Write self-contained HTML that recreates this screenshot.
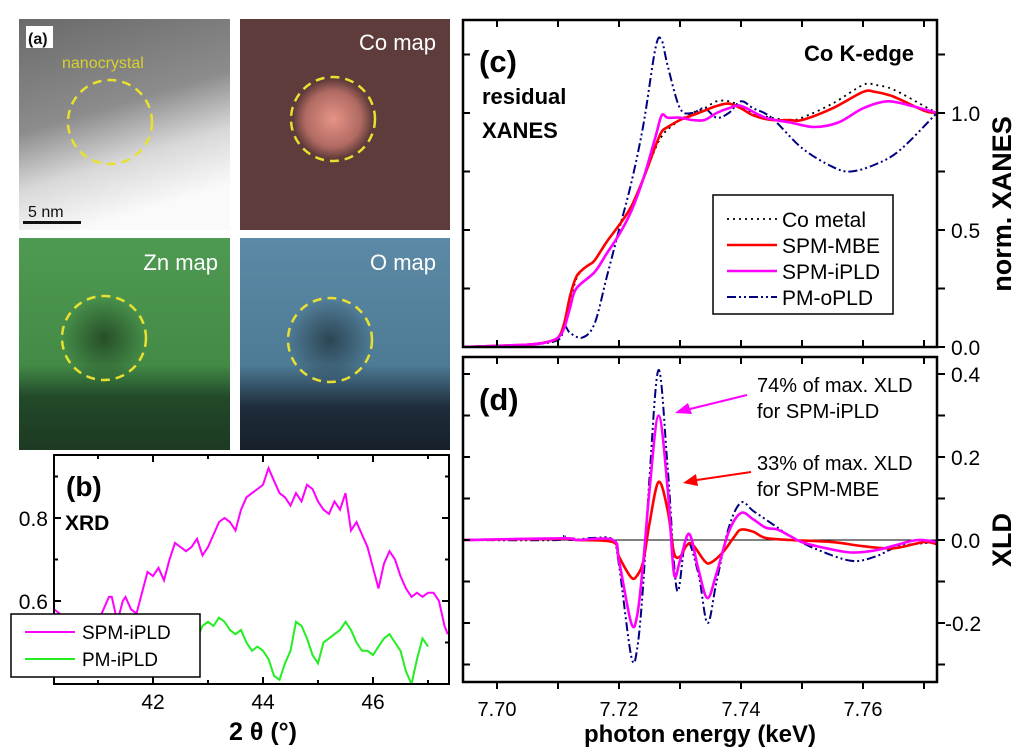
<!DOCTYPE html>
<html><head><meta charset="utf-8"><style>
html,body{margin:0;padding:0;background:#fff;}
svg{display:block;font-family:"Liberation Sans",sans-serif;}
</style></head><body>
<svg id="fig" width="1024" height="754" viewBox="0 0 1024 754" xmlns="http://www.w3.org/2000/svg">
<defs>
<linearGradient id="tem" x1="0" y1="0" x2="0.3" y2="1"><stop offset="0" stop-color="#6a6a6a"/><stop offset="0.5" stop-color="#8c8c8c"/><stop offset="0.75" stop-color="#d8d8d8"/><stop offset="1" stop-color="#fafafa"/></linearGradient>
<radialGradient id="coblob" cx="0.5" cy="0.5" r="0.5"><stop offset="0" stop-color="#e69486"/><stop offset="0.7" stop-color="#b06a62"/><stop offset="1" stop-color="#5e3a39"/></radialGradient>
<linearGradient id="zn" x1="0" y1="0" x2="0" y2="1"><stop offset="0" stop-color="#4f9a52"/><stop offset="0.6" stop-color="#438a46"/><stop offset="0.75" stop-color="#22492a"/><stop offset="1" stop-color="#1d3a22"/></linearGradient>
<linearGradient id="ox" x1="0" y1="0" x2="0" y2="1"><stop offset="0" stop-color="#5c8aa6"/><stop offset="0.6" stop-color="#4d7a94"/><stop offset="0.8" stop-color="#1e2c3a"/><stop offset="1" stop-color="#16202a"/></linearGradient>
<radialGradient id="dark" cx="0.5" cy="0.5" r="0.5"><stop offset="0" stop-color="#000" stop-opacity="0.45"/><stop offset="1" stop-color="#000" stop-opacity="0"/></radialGradient>
</defs>
<g>
<rect x="19" y="19" width="211" height="211" fill="url(#tem)"/>
<rect x="240" y="19" width="210" height="211" fill="#5e3c3c"/>
<circle cx="333" cy="119" r="40" fill="url(#coblob)"/>
<rect x="19" y="238" width="211" height="212" fill="url(#zn)"/>
<circle cx="104" cy="338" r="42" fill="url(#dark)"/>
<rect x="240" y="238" width="210" height="212" fill="url(#ox)"/>
<circle cx="330" cy="340" r="44" fill="url(#dark)"/>
<g fill="none" stroke="#e8e030" stroke-width="2.5" stroke-dasharray="9,6">
<circle cx="110" cy="122" r="42"/>
<circle cx="333" cy="119" r="42"/>
<circle cx="104" cy="338" r="42"/>
<circle cx="330" cy="340" r="42"/>
</g>
<rect x="26" y="26" width="27" height="22" fill="#fff"/>
<text x="28" y="44" font-size="16" font-weight="bold" fill="#111">(a)</text>
<text x="62" y="68" font-size="16" fill="#d8d030">nanocrystal</text>
<text x="28" y="217" font-size="16" fill="#111">5 nm</text>
<rect x="23" y="221" width="58" height="3" fill="#111"/>
<text x="436" y="50" font-size="22" fill="#fff" text-anchor="end">Co map</text>
<text x="218" y="270" font-size="22" fill="#fff" text-anchor="end">Zn map</text>
<text x="436" y="270" font-size="22" fill="#fff" text-anchor="end">O map</text>
</g>
<g id="pb"></g>
<g id="pc"></g>
<g id="pd"></g>
</svg>
<script>
// ---- Panel (b) XRD data ----
const xrdAngle1=[40.2,40.3,40.4,40.5,40.6,40.8,41.0,41.1,41.2,41.25,41.35,41.45,41.5,41.6,41.7,41.8,41.9,42.0,42.1,42.2,42.3,42.4,42.5,42.6,42.7,42.8,42.9,43.0,43.1,43.2,43.3,43.4,43.5,43.6,43.7,43.8,43.9,44.0,44.1,44.2,44.3,44.4,44.5,44.6,44.7,44.8,44.9,45.0,45.1,45.2,45.3,45.4,45.5,45.6,45.7,45.8,45.9,46.0,46.1,46.2,46.3,46.4,46.5,46.6,46.7,46.8,46.9,47.0,47.1,47.2,47.3,47.36];
const xrdSPMiPLD=[0.58,0.57,0.56,0.54,0.52,0.53,0.55,0.58,0.61,0.61,0.55,0.60,0.61,0.58,0.57,0.62,0.67,0.66,0.68,0.65,0.70,0.74,0.73,0.72,0.73,0.75,0.71,0.73,0.76,0.79,0.80,0.79,0.77,0.82,0.85,0.86,0.87,0.88,0.92,0.89,0.86,0.85,0.83,0.86,0.84,0.88,0.87,0.84,0.82,0.81,0.84,0.82,0.86,0.77,0.79,0.76,0.73,0.68,0.63,0.69,0.72,0.70,0.66,0.63,0.61,0.62,0.61,0.62,0.62,0.60,0.54,0.52];
const xrdAngle2=[42.8,42.9,43.0,43.1,43.2,43.3,43.4,43.5,43.6,43.7,43.8,43.9,44.0,44.1,44.2,44.3,44.4,44.5,44.6,44.7,44.8,44.9,45.0,45.1,45.2,45.3,45.4,45.5,45.6,45.7,45.8,45.9,46.0,46.1,46.2,46.3,46.4,46.5,46.6,46.7,46.8,46.9,47.0];
const xrdPMiPLD=[0.51,0.54,0.55,0.54,0.56,0.55,0.53,0.52,0.53,0.50,0.48,0.49,0.48,0.46,0.42,0.41,0.45,0.48,0.55,0.54,0.51,0.47,0.45,0.50,0.51,0.52,0.53,0.55,0.53,0.50,0.48,0.48,0.47,0.49,0.51,0.52,0.50,0.48,0.43,0.40,0.46,0.51,0.49];
const xrdXTicks=[42,44,46];
const xrdYTicks=[0.6,0.8];
// ---- Panel (c) XANES data ----
const eMBE=[7.6946,7.700,7.705,7.708,7.710,7.711,7.712,7.713,7.714,7.715,7.716,7.718,7.720,7.722,7.724,7.726,7.727,7.728,7.730,7.732,7.734,7.736,7.738,7.740,7.742,7.745,7.748,7.750,7.755,7.760,7.762,7.765,7.770,7.7721];
const xanesMBE=[0,0.005,0.01,0.02,0.04,0.10,0.22,0.30,0.33,0.35,0.37,0.45,0.52,0.60,0.72,0.86,0.92,0.94,0.97,0.99,1.01,1.03,1.04,1.02,0.99,0.97,0.97,0.97,1.02,1.09,1.09,1.07,1.01,1.00];
const xanesCoMetal=[0,0.005,0.01,0.02,0.04,0.09,0.20,0.29,0.33,0.35,0.37,0.45,0.52,0.60,0.72,0.85,0.90,0.93,0.97,1.00,1.02,1.05,1.05,1.03,1.00,0.98,0.97,0.98,1.04,1.12,1.12,1.10,1.03,1.00];
const eIPLD=[7.6946,7.705,7.708,7.710,7.711,7.712,7.713,7.716,7.718,7.720,7.722,7.724,7.726,7.727,7.728,7.730,7.732,7.734,7.736,7.738,7.740,7.744,7.748,7.752,7.756,7.760,7.764,7.768,7.7721];
const xanesIPLD=[0,0.01,0.02,0.04,0.08,0.17,0.25,0.32,0.40,0.48,0.58,0.72,0.90,0.99,0.98,0.98,0.97,0.97,1.00,1.02,1.03,0.98,0.96,0.94,0.96,1.02,1.05,1.03,1.00];
const eOPLD=[7.6946,7.705,7.710,7.711,7.712,7.714,7.716,7.718,7.720,7.722,7.724,7.726,7.727,7.728,7.730,7.732,7.734,7.736,7.738,7.740,7.742,7.745,7.750,7.755,7.758,7.762,7.766,7.7721];
const xanesOPLD=[0,0.01,0.03,0.09,0.06,0.04,0.10,0.30,0.50,0.70,0.95,1.28,1.31,1.20,1.02,1.00,1.02,0.98,1.00,1.05,1.02,0.98,0.85,0.77,0.75,0.78,0.84,1.00];
const xanesYTicks=[0.0,0.5,1.0];
const eTicks=[7.70,7.72,7.74,7.76];
// ---- Panel (d) XLD data ----
const dE_MBE=[7.6946,7.711,7.713,7.719,7.720,7.722,7.723,7.724,7.725,7.7265,7.728,7.729,7.730,7.731,7.732,7.734,7.735,7.737,7.739,7.740,7.742,7.744,7.748,7.755,7.760,7.765,7.770,7.7721];
const xldMBE=[0,0.003,0,-0.005,-0.04,-0.09,-0.085,-0.05,0.04,0.14,0.07,-0.03,-0.04,-0.015,-0.01,-0.05,-0.055,-0.03,0.01,0.025,0.02,0.005,0,-0.005,-0.015,-0.02,-0.005,-0.01];
const dE_IPLD=[7.6946,7.711,7.713,7.719,7.720,7.722,7.723,7.724,7.725,7.7265,7.728,7.729,7.730,7.7315,7.733,7.7345,7.736,7.738,7.740,7.742,7.744,7.746,7.748,7.750,7.754,7.758,7.762,7.766,7.769,7.7721];
const xldIPLD=[0,0.004,0,0,-0.05,-0.20,-0.18,-0.05,0.12,0.30,0.12,-0.08,-0.05,0.015,-0.07,-0.14,-0.08,0.02,0.065,0.05,0.03,0.025,0.01,-0.005,-0.02,-0.03,-0.025,-0.01,0,-0.005];
const dE_OPLD=[7.6946,7.710,7.711,7.712,7.716,7.719,7.720,7.722,7.723,7.724,7.725,7.7265,7.728,7.7295,7.731,7.733,7.7345,7.736,7.738,7.740,7.742,7.745,7.748,7.752,7.758,7.762,7.766,7.7721];
const xldOPLD=[0,0,0.01,0,0.005,0,-0.06,-0.28,-0.26,-0.10,0.15,0.41,0.17,-0.12,0,-0.08,-0.20,-0.10,0.03,0.09,0.07,0.04,0.01,-0.02,-0.05,-0.04,-0.015,-0.005];
const xldYTicks=[-0.2,0.0,0.2,0.4];

const NS="http://www.w3.org/2000/svg";
function mk(parent,tag,attrs){const el=document.createElementNS(NS,tag);for(const k in attrs)el.setAttribute(k,attrs[k]);parent.appendChild(el);return el;}
function lin(d0,d1,r0,r1){return v=>r0+(v-d0)*(r1-r0)/(d1-d0);}
function smoothPath(xs,ys,sx,sy){
  const p=xs.map((x,i)=>[sx(x),sy(ys[i])]);
  let d="M"+p[0][0].toFixed(1)+","+p[0][1].toFixed(1);
  for(let i=0;i<p.length-1;i++){
    const p0=p[Math.max(0,i-1)],p1=p[i],p2=p[i+1],p3=p[Math.min(p.length-1,i+2)];
    const c1=[p1[0]+(p2[0]-p0[0])/6,p1[1]+(p2[1]-p0[1])/6];
    const c2=[p2[0]-(p3[0]-p1[0])/6,p2[1]-(p3[1]-p1[1])/6];
    d+="C"+c1[0].toFixed(1)+","+c1[1].toFixed(1)+" "+c2[0].toFixed(1)+","+c2[1].toFixed(1)+" "+p2[0].toFixed(1)+","+p2[1].toFixed(1);
  }
  return d;
}
function polyPath(xs,ys,sx,sy){return "M"+xs.map((x,i)=>sx(x).toFixed(1)+","+sy(ys[i]).toFixed(1)).join("L");}

// ---- Panel b ----
(function(){
  const g=document.getElementById('pb');
  const L=54,R=449,T=455,B=684;
  const sx=lin(42,44,153,263), sy=lin(0.6,0.8,601,518);
  const clip=mk(g,'clipPath',{id:'clipb'});mk(clip,'rect',{x:L,y:T,width:R-L,height:B-T});
  const p1=mk(g,'path',{d:polyPath(xrdAngle1,xrdSPMiPLD,sx,sy),fill:'none',stroke:'#ff00ff','stroke-width':2,'clip-path':'url(#clipb)'});
  
  
  const p2=mk(g,'path',{d:polyPath(xrdAngle2,xrdPMiPLD,sx,sy),fill:'none',stroke:'#22ee22','stroke-width':2,'clip-path':'url(#clipb)'});
  
  
  const fr=mk(g,'rect',{x:L,y:T,width:R-L,height:B-T,fill:'none',stroke:'#000','stroke-width':2});
  
  
  for(let v=41;v<=47;v++){
    const x=sx(v); const len=(v%2===0)?7:4;
    mk(g,'line',{x1:x,y1:B,x2:x,y2:B-len,stroke:'#000','stroke-width':2});
    mk(g,'line',{x1:x,y1:T,x2:x,y2:T+len,stroke:'#000','stroke-width':2});
  }
  xrdXTicks.forEach(v=>{const t=mk(g,'text',{x:sx(v),y:709,'font-size':21,'text-anchor':'middle'});t.textContent=v;
    
    });
  for(let v=0.5;v<=0.91;v+=0.1){const y=sy(v);const len=(Math.abs(v*10-Math.round(v*10))<0.01&&Math.round(v*10)%2===0)?7:4;
    mk(g,'line',{x1:L,y1:y,x2:L+len,y2:y,stroke:'#000','stroke-width':2});
    mk(g,'line',{x1:R,y1:y,x2:R-len,y2:y,stroke:'#000','stroke-width':2});}
  xrdYTicks.forEach(v=>{const t=mk(g,'text',{x:48,y:sy(v)+8,'font-size':21,'text-anchor':'end'});t.textContent=v.toFixed(1);
    
    });
  const lb=mk(g,'text',{x:66,y:496,'font-size':28,'font-weight':'bold'});lb.textContent='(b)';
  
  
  const xr=mk(g,'text',{x:65,y:530,'font-size':21,'font-weight':'bold'});xr.textContent='XRD';
  
  
  const xl=mk(g,'text',{x:263,y:740,'font-size':25,'font-weight':'bold','text-anchor':'middle'});xl.textContent='2 θ (°)';
  
  
  const leg=mk(g,'g',{});
  
  
  mk(leg,'rect',{x:11,y:614,width:189,height:63,fill:'#fff',stroke:'#000','stroke-width':1.5});
  mk(leg,'line',{x1:25,y1:632,x2:75,y2:632,stroke:'#ff00ff','stroke-width':2});
  mk(leg,'line',{x1:25,y1:659,x2:75,y2:659,stroke:'#22ee22','stroke-width':2});
  const l1=mk(leg,'text',{x:82,y:639,'font-size':19});l1.textContent='SPM-iPLD';
  
  
  const l2=mk(leg,'text',{x:82,y:666,'font-size':19});l2.textContent='PM-iPLD';
  
  
})();

const L2=463,R2=937;
const sxE=lin(7.70,7.76,497,863);
function eAxisTicks(g,T,B,outBottom){
  for(let k=0;k<8;k++){const v=7.70+k*0.01;const x=sxE(v);if(x>R2)continue;
    mk(g,'line',{x1:x,y1:B,x2:x,y2:outBottom?B+7:B-7,stroke:'#000','stroke-width':2});
    mk(g,'line',{x1:x,y1:T,x2:x,y2:T+7,stroke:'#000','stroke-width':2});}
}

// ---- Panel c ----
(function(){
  const g=document.getElementById('pc');
  const T=20,B=347;
  const sy=lin(0,1,347,113);
  const clip=mk(g,'clipPath',{id:'clipc'});mk(clip,'rect',{x:L2,y:T,width:R2-L2,height:B-T});
  const a=mk(g,'path',{d:smoothPath(eMBE,xanesCoMetal,sxE,sy),fill:'none',stroke:'#000','stroke-width':1.8,'stroke-dasharray':'2,4','clip-path':'url(#clipc)'});
  
  
  const o=mk(g,'path',{d:smoothPath(eOPLD,xanesOPLD,sxE,sy),fill:'none',stroke:'#000080','stroke-width':2,'stroke-dasharray':'9,3,2,3,2,3','clip-path':'url(#clipc)'});
  
  
  const b=mk(g,'path',{d:smoothPath(eMBE,xanesMBE,sxE,sy),fill:'none',stroke:'#ff0000','stroke-width':2.6,'clip-path':'url(#clipc)'});
  
  
  const c=mk(g,'path',{d:smoothPath(eIPLD,xanesIPLD,sxE,sy),fill:'none',stroke:'#ff00ff','stroke-width':2.6,'clip-path':'url(#clipc)'});
  
  
  const fr=mk(g,'rect',{x:L2,y:T,width:R2-L2,height:B-T,fill:'none',stroke:'#000','stroke-width':2.5});
  
  
  eAxisTicks(g,T,B,false);
  for(let v=0;v<=1.26;v+=0.25){const y=sy(v);
    mk(g,'line',{x1:L2,y1:y,x2:L2+7,y2:y,stroke:'#000','stroke-width':2});
    mk(g,'line',{x1:R2,y1:y,x2:R2+8,y2:y,stroke:'#000','stroke-width':2});}
  xanesYTicks.forEach(v=>{const t=mk(g,'text',{x:951,y:sy(v)+8,'font-size':21});t.textContent=v.toFixed(1);
    
    });
  const lb=mk(g,'text',{x:479,y:72,'font-size':31,'font-weight':'bold'});lb.textContent='(c)';
  
  
  const r1=mk(g,'text',{x:482,y:104,'font-size':22,'font-weight':'bold'});r1.textContent='residual';
  
  
  const r2=mk(g,'text',{x:482,y:138,'font-size':22,'font-weight':'bold'});r2.textContent='XANES';
  
  
  const ck=mk(g,'text',{x:914,y:61,'font-size':22,'font-weight':'bold','text-anchor':'end'});ck.textContent='Co K-edge';
  
  
  const yt=mk(g,'text',{x:1011,y:204,'font-size':27,'font-weight':'bold','text-anchor':'middle',transform:'rotate(-90 1011 204)'});yt.textContent='norm. XANES';
  
  
  const leg=mk(g,'g',{});
  
  
  mk(leg,'rect',{x:713,y:195,width:180,height:119,fill:'#fff',stroke:'#000','stroke-width':1.5});
  const items=[['Co metal','#000','2,4',1.8],['SPM-MBE','#ff0000','',2.6],['SPM-iPLD','#ff00ff','',2.6],['PM-oPLD','#000080','9,3,2,3,2,3',2]];
  items.forEach((it,i)=>{const y=219+i*26;
    const ln=mk(leg,'line',{x1:727,y1:y,x2:777,y2:y,stroke:it[1],'stroke-width':it[3]});if(it[2])ln.setAttribute('stroke-dasharray',it[2]);
    const t=mk(leg,'text',{x:782,y:y+8,'font-size':21});t.textContent=it[0];
    
    });
})();

// ---- Panel d ----
(function(){
  const g=document.getElementById('pd');
  const T=357,B=682;
  const sy=lin(0,0.2,540,457);
  const clip=mk(g,'clipPath',{id:'clipd'});mk(clip,'rect',{x:L2,y:T,width:R2-L2,height:B-T});
  mk(g,'line',{x1:L2,y1:sy(0),x2:R2,y2:sy(0),stroke:'#000','stroke-width':1});
  const o=mk(g,'path',{d:smoothPath(dE_OPLD,xldOPLD,sxE,sy),fill:'none',stroke:'#000080','stroke-width':2,'stroke-dasharray':'9,3,2,3,2,3','clip-path':'url(#clipd)'});
  
  
  const b=mk(g,'path',{d:smoothPath(dE_MBE,xldMBE,sxE,sy),fill:'none',stroke:'#ff0000','stroke-width':2.6,'clip-path':'url(#clipd)'});
  
  
  const c=mk(g,'path',{d:smoothPath(dE_IPLD,xldIPLD,sxE,sy),fill:'none',stroke:'#ff00ff','stroke-width':2.6,'clip-path':'url(#clipd)'});
  
  
  const fr=mk(g,'rect',{x:L2,y:T,width:R2-L2,height:B-T,fill:'none',stroke:'#000','stroke-width':2.5});
  
  
  eAxisTicks(g,T,B,true);
  for(let k=-3;k<=4;k++){const v=k*0.1;const y=sy(v);
    mk(g,'line',{x1:L2,y1:y,x2:L2+7,y2:y,stroke:'#000','stroke-width':2});
    mk(g,'line',{x1:R2,y1:y,x2:R2+8,y2:y,stroke:'#000','stroke-width':2});}
  xldYTicks.forEach(v=>{const t=mk(g,'text',{x:v<0?945:951,y:sy(v)+8,'font-size':21});t.textContent=v.toFixed(1);
    
    });
  eTicks.forEach(v=>{const t=mk(g,'text',{x:sxE(v),y:716,'font-size':20,'text-anchor':'middle'});t.textContent=v.toFixed(2);
    
    });
  const xl=mk(g,'text',{x:700,y:742,'font-size':24,'font-weight':'bold','text-anchor':'middle'});xl.textContent='photon energy (keV)';
  
  
  const yt=mk(g,'text',{x:1011,y:540,'font-size':27,'font-weight':'bold','text-anchor':'middle',transform:'rotate(-90 1011 540)'});yt.textContent='XLD';
  
  
  const lb=mk(g,'text',{x:479,y:410,'font-size':31,'font-weight':'bold'});lb.textContent='(d)';
  
  
  const t1=mk(g,'text',{x:757,y:392,'font-size':20});t1.textContent='74% of max. XLD';
  
  
  const t2=mk(g,'text',{x:757,y:418,'font-size':20});t2.textContent='for SPM-iPLD';
  
  
  const t3=mk(g,'text',{x:757,y:470,'font-size':20});t3.textContent='33% of max. XLD';
  
  
  const t4=mk(g,'text',{x:757,y:496,'font-size':20});t4.textContent='for SPM-MBE';
  
  
  mk(g,'line',{x1:747,y1:395,x2:690,y2:409,stroke:'#ff00ff','stroke-width':2});
  mk(g,'polygon',{points:'675,413 688,403 692,414',fill:'#ff00ff'});
  mk(g,'line',{x1:751,y1:472,x2:697,y2:480,stroke:'#ff0000','stroke-width':2});
  mk(g,'polygon',{points:'683,483 696,474 698,486',fill:'#ff0000'});
})();
</script>
</body></html>
